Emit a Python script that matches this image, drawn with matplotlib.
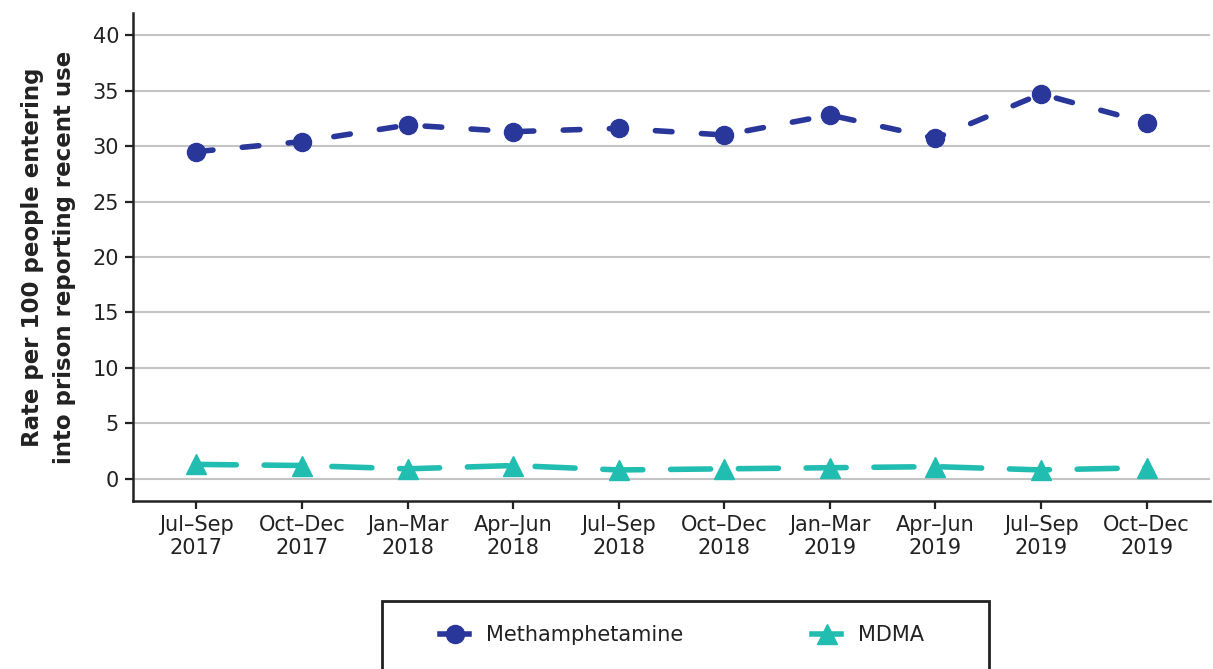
import matplotlib
matplotlib.use("Agg")
import matplotlib.pyplot as plt
from matplotlib.lines import Line2D
from matplotlib.patches import Rectangle

plt.rcParams["font.family"] = ["DejaVu Sans"]

quarters = ["Jul–Sep\n2017", "Oct–Dec\n2017", "Jan–Mar\n2018", "Apr–Jun\n2018",
            "Jul–Sep\n2018", "Oct–Dec\n2018", "Jan–Mar\n2019", "Apr–Jun\n2019",
            "Jul–Sep\n2019", "Oct–Dec\n2019"]
meth = [29.5, 30.4, 31.9, 31.3, 31.6, 31.0, 32.8, 30.7, 34.7, 32.1]
mdma = [1.3, 1.2, 0.9, 1.2, 0.8, 0.9, 1.0, 1.1, 0.8, 1.0]

METH_COL = "#29369a"
MDMA_COL = "#21bdb1"
W, H = 1213, 669

fig = plt.figure(figsize=(W / 100, H / 100), dpi=100)
ax = fig.add_axes([133 / W, 1 - 501 / H, 1077 / W, 488 / H])

x = list(range(len(quarters)))
ax.plot(x, meth, color=METH_COL, lw=4, dashes=(3, 5.3), dash_capstyle="round",
        marker="o", markersize=13, zorder=3)
ax.plot(x, mdma, color=MDMA_COL, lw=4, dashes=(7.2, 5), dash_capstyle="round",
        marker="^", markersize=15, zorder=3)

ax.set_ylim(-2, 42)
ax.set_xlim(-0.6, 9.6)
ax.set_yticks(range(0, 41, 5))
ax.set_xticks(x)
ax.set_xticklabels(quarters, linespacing=1.2)
ax.yaxis.grid(True, color="#c4c4c4", lw=1.5)
ax.set_axisbelow(True)
for s in ["top", "right"]:
    ax.spines[s].set_visible(False)
for s in ["left", "bottom"]:
    ax.spines[s].set_linewidth(1.8)
    ax.spines[s].set_color("#222222")
ax.tick_params(labelsize=15, length=6, width=1.6, color="#222222",
               labelcolor="#222222", pad=4)

ax.set_ylabel("Rate per 100 people entering\ninto prison reporting recent use",
              fontsize=16.5, fontweight="bold", color="#222222", labelpad=12,
              linespacing=1.5)

# legend: box runs off the bottom edge like in the original
fig.patches.append(Rectangle((382 / W, -0.1), 607 / W, 0.1 + 1 - 601 / H,
                             transform=fig.transFigure, fill=False,
                             edgecolor="#222222", lw=2))
handles = [
    Line2D([], [], color=METH_COL, lw=4, marker="o", markersize=13),
    Line2D([], [], color=MDMA_COL, lw=4, marker="^", markersize=15),
]
leg = fig.legend(handles, ["Methamphetamine", "MDMA"], loc="center left",
                 bbox_to_anchor=(440 / W, 1 - 635 / H), ncol=2, frameon=False,
                 fontsize=15, handlelength=1.4, columnspacing=6.2,
                 borderpad=0, handletextpad=0.8, borderaxespad=0)
for t in leg.get_texts():
    t.set_color("#222222")

fig.savefig("out.png", dpi=100)
